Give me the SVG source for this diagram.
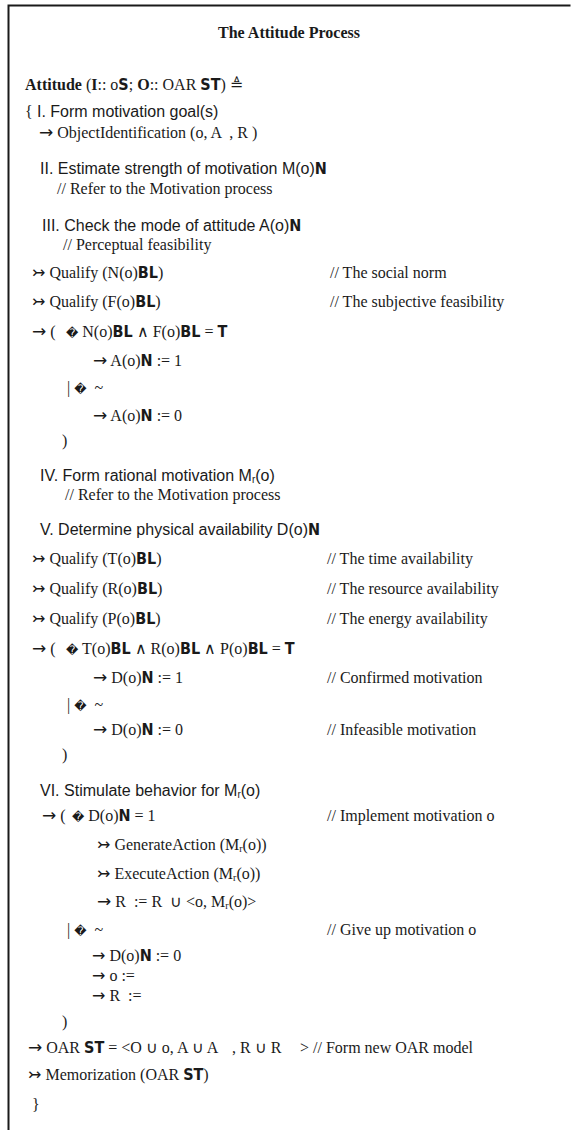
<svg xmlns="http://www.w3.org/2000/svg" width="580" height="1130" viewBox="0 0 580 1130">
<style>
text { font-family: "Liberation Serif", "Times New Roman", serif; font-size: 16px; fill: #1a1a1a; white-space: pre; }
.h { font-family: "Liberation Sans", Arial, sans-serif; font-size: 16px; }
.b { font-family: "DejaVu Sans Condensed", "DejaVu Sans", sans-serif; font-weight: bold; font-size: 16px; }
.t { font-weight: bold; }
.q { font-family: "DejaVu Sans", sans-serif; font-size: 12px; }
.ar { font-family: "DejaVu Sans", sans-serif; font-size: 17px; }
.as { font-family: "DejaVu Sans", sans-serif; font-size: 16px; }
.tl { font-family: "DejaVu Sans", sans-serif; font-size: 16px; }
.sub { font-size: 10px; }
</style>
<rect width="580" height="1130" fill="#ffffff"/>
<path d="M8.5,1130 V5.5 H570.5" fill="none" stroke="#1a1a1a" stroke-width="2"/>
<text x="289" y="38" text-anchor="middle" class="t">The Attitude Process</text>
<g id="header">
<text x="25" y="90"><tspan class="t">Attitude</tspan> (<tspan class="t">I</tspan>:: o<tspan class="b">S</tspan>; <tspan class="t">O</tspan>:: OAR <tspan class="b">ST</tspan>) <tspan class="tl" font-size="14">≜</tspan></text>
</g>
<g id="step1">
<text x="25" y="117">{</text>
<text x="37" y="117" class="h">I. Form motivation goal(s)</text>
<text x="39" y="138"><tspan class="ar">→</tspan> ObjectIdentification (o, A  , R )</text>
</g>
<g id="step2">
<text x="40" y="174" class="h">II. Estimate strength of motivation M(o)<tspan class="b">N</tspan></text>
<text x="57" y="194">// Refer to the Motivation process</text>
</g>
<g id="step3">
<text x="42" y="231" class="h">III. Check the mode of attitude A(o)<tspan class="b">N</tspan></text>
<text x="63" y="250">// Perceptual feasibility</text>
<text x="32" y="278"><tspan class="tl">↣</tspan> Qualify (N(o)<tspan class="b">BL</tspan>)</text>
<text x="330" y="278">// The social norm</text>
<text x="32" y="307"><tspan class="tl">↣</tspan> Qualify (F(o)<tspan class="b">BL</tspan>)</text>
<text x="330" y="307">// The subjective feasibility</text>
<text x="32" y="337"><tspan class="ar">→</tspan> (<tspan x="66" class="q">�</tspan> N(o)<tspan class="b">BL</tspan> ∧ F(o)<tspan class="b">BL</tspan> = <tspan class="b">T</tspan></text>
<text x="93" y="366"><tspan class="ar">→</tspan> A(o)<tspan class="b">N</tspan> := 1</text>
<text x="67" y="393">| <tspan class="q">�</tspan>  ~</text>
<text x="93" y="421"><tspan class="ar">→</tspan> A(o)<tspan class="b">N</tspan> := 0</text>
<text x="62" y="446">)</text>
</g>
<g id="step4">
<text x="40" y="481" class="h">IV. Form rational motivation M<tspan class="sub" dy="2">r</tspan><tspan dy="-2">(o)</tspan></text>
<text x="65" y="500">// Refer to the Motivation process</text>
</g>
<g id="step5">
<text x="40" y="535" class="h">V. Determine physical availability D(o)<tspan class="b">N</tspan></text>
<text x="32" y="564"><tspan class="tl">↣</tspan> Qualify (T(o)<tspan class="b">BL</tspan>)</text>
<text x="327" y="564">// The time availability</text>
<text x="32" y="594"><tspan class="tl">↣</tspan> Qualify (R(o)<tspan class="b">BL</tspan>)</text>
<text x="327" y="594">// The resource availability</text>
<text x="32" y="624"><tspan class="tl">↣</tspan> Qualify (P(o)<tspan class="b">BL</tspan>)</text>
<text x="327" y="624">// The energy availability</text>
<text x="32" y="654"><tspan class="ar">→</tspan> (<tspan x="66" class="q">�</tspan> T(o)<tspan class="b">BL</tspan> ∧ R(o)<tspan class="b">BL</tspan> ∧ P(o)<tspan class="b">BL</tspan> = <tspan class="b">T</tspan></text>
<text x="93" y="683"><tspan class="ar">→</tspan> D(o)<tspan class="b">N</tspan> := 1</text>
<text x="327" y="683">// Confirmed motivation</text>
<text x="67" y="710">| <tspan class="q">�</tspan>  ~</text>
<text x="93" y="735"><tspan class="ar">→</tspan> D(o)<tspan class="b">N</tspan> := 0</text>
<text x="327" y="735">// Infeasible motivation</text>
<text x="62" y="760">)</text>
</g>
<g id="step6">
<text x="40" y="796" class="h">VI. Stimulate behavior for M<tspan class="sub" dy="2">r</tspan><tspan dy="-2">(o)</tspan></text>
<text x="42" y="821"><tspan class="ar">→</tspan> (<tspan x="72" class="q">�</tspan> D(o)<tspan class="b">N</tspan> = 1</text>
<text x="327" y="821">// Implement motivation o</text>
<text x="97" y="850"><tspan class="tl">↣</tspan> GenerateAction (M<tspan class="sub" dy="2">r</tspan><tspan dy="-2">(o))</tspan></text>
<text x="97" y="879"><tspan class="tl">↣</tspan> ExecuteAction (M<tspan class="sub" dy="2">r</tspan><tspan dy="-2">(o))</tspan></text>
<text x="97" y="907"><tspan class="ar">→</tspan> R  := R  ∪ &lt;o, M<tspan class="sub" dy="2">r</tspan><tspan dy="-2">(o)&gt;</tspan></text>
<text x="67" y="935">| <tspan class="q">�</tspan>  ~</text>
<text x="327" y="935">// Give up motivation o</text>
<text x="92" y="961"><tspan class="as">→</tspan> D(o)<tspan class="b">N</tspan> := 0</text>
<text x="92" y="981"><tspan class="as">→</tspan> o :=</text>
<text x="92" y="1001"><tspan class="as">→</tspan> R  :=</text>
<text x="62" y="1027">)</text>
</g>
<g id="final">
<text x="28" y="1053"><tspan class="ar">→</tspan> OAR <tspan class="b">ST</tspan> = &lt;O ∪ o, A ∪ A<tspan x="232">, R ∪ R</tspan><tspan x="300">&gt; // Form new OAR model</tspan></text>
<text x="28" y="1080"><tspan class="tl">↣</tspan> Memorization (OAR <tspan class="b">ST</tspan>)</text>
<text x="32" y="1110">}</text>
</g>
</svg>
